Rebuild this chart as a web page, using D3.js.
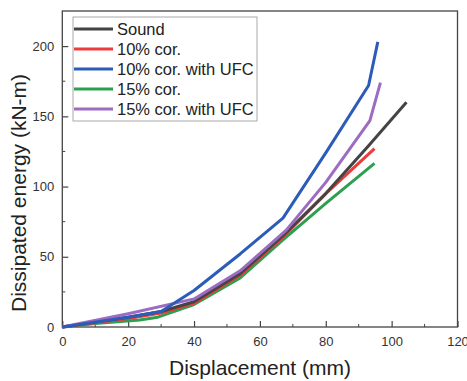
<!DOCTYPE html>
<html><head><meta charset="utf-8">
<script src="https://cdn.jsdelivr.net/npm/d3@7"></script>
<style>body{margin:0;background:#fff}svg{display:block}text{font-family:"Liberation Sans",Arial,sans-serif}</style>
</head><body><svg id="c" width="467" height="381"></svg>
<script>
const seriesNames = ["Sound","10% cor.","10% cor. with UFC","15% cor.","15% cor. with UFC"];
const seriesColors = ["#444444","#ee3b3b","#2b5cb8","#2e9e50","#9d6cc2"];
const sound = [[0,0],[10,3.5],[20,7],[30,11],[40,18],[54,38],[67,65],[80,95],[93,129],[104.5,160]];
const cor10 = [[0,0],[10,3],[20,6],[30,10],[40,17],[54,37],[67,64],[80,95],[94.8,127]];
const cor10UFC = [[0,0],[20,7],[30,11],[40,26],[54,52],[67,77.5],[80,124],[93,172],[95.8,203]];
const cor15 = [[0,0],[10,2.5],[23.5,5],[29,7],[40,16],[54,35],[67,62],[80,88],[94.8,116.5]];
const cor15UFC = [[0,0],[20,9.5],[40,20],[54,40],[68,69],[80,103],[93.4,147],[96.6,174]];
const xTicks = [0,20,40,60,80,100,120];
const yTicks = [0,50,100,150,200];
const allSeries = [sound, cor10, cor10UFC, cor15, cor15UFC];

const svg = d3.select("#c");
const L=62.3, R=457.5, T=11, B=327;
const x = d3.scaleLinear().domain([0,120]).range([L,R]);
const y = d3.scaleLinear().domain([0,225]).range([B,T]);

svg.append("rect").attr("x",L).attr("y",T).attr("width",R-L).attr("height",B-T)
  .attr("fill","none").attr("stroke","#444").attr("stroke-width",1.3);

const minorX = d3.range(10,120,20), minorY = d3.range(25,225,50);
svg.append("g").selectAll("line").data(minorX).join("line")
  .attr("x1",d=>x(d)).attr("x2",d=>x(d)).attr("y1",B).attr("y2",B-3).attr("stroke","#444");
svg.append("g").selectAll("line").data(minorY).join("line")
  .attr("y1",d=>y(d)).attr("y2",d=>y(d)).attr("x1",L).attr("x2",L+3).attr("stroke","#444");

const xa = svg.append("g").attr("transform",`translate(0,${B})`)
  .call(d3.axisBottom(x).tickValues(xTicks).tickSizeInner(-6).tickSizeOuter(0).tickPadding(10));
const ya = svg.append("g").attr("transform",`translate(${L},0)`)
  .call(d3.axisLeft(y).tickValues(yTicks).tickSizeInner(-6).tickSizeOuter(0).tickPadding(8));
[xa,ya].forEach(a=>{
  a.select(".domain").remove();
  a.selectAll(".tick line").attr("stroke","#444").attr("stroke-width",1.2);
  a.selectAll(".tick text").attr("fill","#333").style("font-size","13px").style("font-family","'Liberation Sans',Arial,sans-serif");
});

const line = d3.line().x(d=>x(d[0])).y(d=>y(d[1]));
[3,1,0,4,2].forEach(i=>{
  svg.append("path").attr("d",line(allSeries[i])).attr("fill","none")
    .attr("stroke",seriesColors[i]).attr("stroke-width",3).attr("stroke-linejoin","round");
});

svg.append("text").attr("x",260).attr("y",375).attr("text-anchor","middle")
  .style("font-size","21px").attr("fill","#222").text("Displacement (mm)");
svg.append("text").attr("transform",`translate(26,193) rotate(-90)`).attr("text-anchor","middle")
  .style("font-size","21px").attr("fill","#222").text("Dissipated energy (kN-m)");

const lg = svg.append("g");
lg.append("rect").attr("x",73).attr("y",17).attr("width",184).attr("height",104)
  .attr("fill","#fff").attr("stroke","#aaa").attr("stroke-width",1);
seriesNames.forEach((n,i)=>{
  const yy = 29 + i*20;
  lg.append("line").attr("x1",74).attr("x2",113).attr("y1",yy).attr("y2",yy)
    .attr("stroke",seriesColors[i]).attr("stroke-width",3);
  lg.append("text").attr("x",117).attr("y",yy+6).style("font-size","16.5px").attr("fill","#222").text(n);
});
</script></body></html>
